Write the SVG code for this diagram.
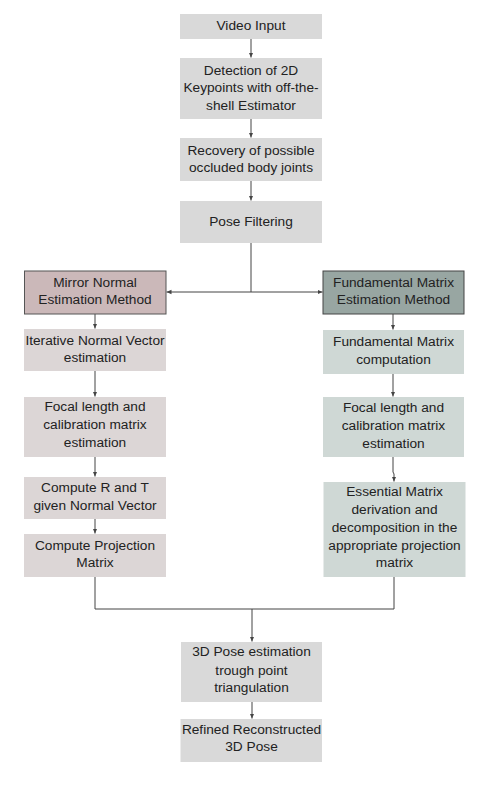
<svg xmlns="http://www.w3.org/2000/svg" width="490" height="797" viewBox="0 0 490 797">
<style>
text{font-family:"Liberation Sans",Arial,sans-serif;font-size:13.7px;fill:#222;text-anchor:middle}
.top{fill:#d9d9d9}
.lc{fill:#dcd6d6}
.rc{fill:#cfd8d5}
.mh{fill:#cbb8b9;stroke:#555;stroke-width:1}
.fh{fill:#98a6a2;stroke:#444;stroke-width:1}
.ln{fill:none;stroke:#444;stroke-width:1}
</style>
<defs>
<marker id="ah" markerWidth="6" markerHeight="6" refX="5" refY="3" orient="auto" markerUnits="userSpaceOnUse">
<path d="M0,0.8 L5,3 L0,5.2 Z" fill="#444"/>
</marker>
</defs>
<rect width="490" height="797" fill="#fff"/>
<g id="connectors">
<path class="ln" d="M251,39 V57.5" marker-end="url(#ah)"/>
<path class="ln" d="M251,119 V137.5" marker-end="url(#ah)"/>
<path class="ln" d="M251,181 V200.5" marker-end="url(#ah)"/>
<path class="ln" d="M251,243 V292"/>
<path class="ln" d="M251,292 H166.5" marker-end="url(#ah)"/>
<path class="ln" d="M251,292 H322.5" marker-end="url(#ah)"/>
<path class="ln" d="M95,314 V328.5" marker-end="url(#ah)"/>
<path class="ln" d="M95,371 V396.5" marker-end="url(#ah)"/>
<path class="ln" d="M95,457 V476.5" marker-end="url(#ah)"/>
<path class="ln" d="M95,519 V533.5" marker-end="url(#ah)"/>
<path class="ln" d="M393,314 V329.5" marker-end="url(#ah)"/>
<path class="ln" d="M393,374 V396.5" marker-end="url(#ah)"/>
<path class="ln" d="M393,457 V472 L394,474 V481.5" marker-end="url(#ah)"/>
<path class="ln" d="M95,577 V609 H394 V577"/>
<path class="ln" d="M252,609 V641.5" marker-end="url(#ah)"/>
<path class="ln" d="M252,702 V718.5" marker-end="url(#ah)"/>
</g>
<g id="video-input"><rect class="top" x="180" y="14" width="142" height="25"/><text x="251" y="30">Video Input</text></g>
<g id="detection"><rect class="top" x="180" y="58" width="142" height="61"/><text x="251" y="74.5">Detection of 2D</text><text x="251" y="92">Keypoints with off-the-</text><text x="251" y="109.5">shell Estimator</text></g>
<g id="recovery"><rect class="top" x="180" y="138" width="142" height="43"/><text x="251" y="154.5">Recovery of possible</text><text x="251" y="172">occluded body joints</text></g>
<g id="pose-filtering"><rect class="top" x="180" y="201" width="142" height="42"/><text x="251" y="225.5">Pose Filtering</text></g>
<g id="mirror-method"><rect class="mh" x="24.5" y="271" width="141.5" height="43"/><text x="95" y="287">Mirror Normal</text><text x="95" y="304">Estimation Method</text></g>
<g id="fundamental-method"><rect class="fh" x="323" y="271" width="141" height="43"/><text x="393.5" y="287">Fundamental Matrix</text><text x="393.5" y="304">Estimation Method</text></g>
<g id="iterative"><rect class="lc" x="24" y="329" width="142" height="42"/><text x="95" y="344.5">Iterative Normal Vector</text><text x="95" y="362">estimation</text></g>
<g id="focal-left"><rect class="lc" x="24" y="397" width="142" height="60"/><text x="95" y="411">Focal length and</text><text x="95" y="429">calibration matrix</text><text x="95" y="447">estimation</text></g>
<g id="compute-rt"><rect class="lc" x="24" y="477" width="142" height="42"/><text x="95" y="492">Compute R and T</text><text x="95" y="509.5">given Normal Vector</text></g>
<g id="compute-projection"><rect class="lc" x="24" y="534" width="142" height="43"/><text x="95" y="549.5">Compute Projection</text><text x="95" y="567">Matrix</text></g>
<g id="fundamental-computation"><rect class="rc" x="323" y="330" width="141" height="44"/><text x="393.5" y="345.5">Fundamental Matrix</text><text x="393.5" y="363.5">computation</text></g>
<g id="focal-right"><rect class="rc" x="323" y="397" width="141" height="60"/><text x="393.5" y="412">Focal length and</text><text x="393.5" y="430">calibration matrix</text><text x="393.5" y="448">estimation</text></g>
<g id="essential"><rect class="rc" x="323.5" y="482" width="142" height="95"/><text x="394.5" y="496">Essential Matrix</text><text x="394.5" y="514">derivation and</text><text x="394.5" y="531.5">decomposition in the</text><text x="394.5" y="549.5">appropriate projection</text><text x="394.5" y="567">matrix</text></g>
<g id="pose-3d"><rect class="top" x="181" y="642" width="141" height="60"/><text x="251.5" y="656">3D Pose estimation</text><text x="251.5" y="674.5">trough point</text><text x="251.5" y="692">triangulation</text></g>
<g id="refined"><rect class="top" x="180.5" y="719" width="141.5" height="43"/><text x="251.5" y="733.5">Refined Reconstructed</text><text x="251.5" y="751">3D Pose</text></g>
</svg>
